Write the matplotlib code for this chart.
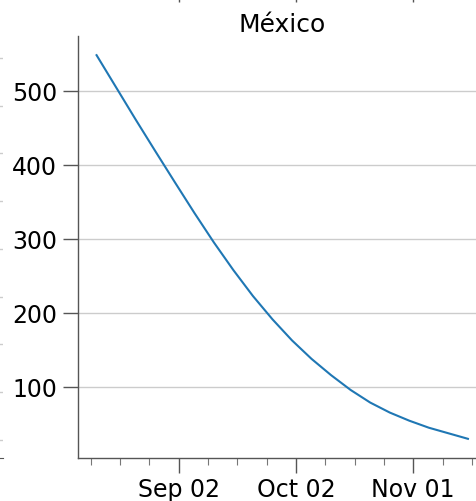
import matplotlib
matplotlib.use('Agg')
import matplotlib.pyplot as plt
import matplotlib.dates as mdates
from matplotlib.ticker import AutoMinorLocator, FixedLocator
import pandas as pd

TITLE = 'México'
START = '2020-08-12'
STEP = '5D'

# active cases, one reading every 5 days
ACTIVE = [548, 504.5, 461, 418.5, 376.5, 335, 295, 257.5, 222.5, 191,
          162.5, 137.5, 115.5, 95.5, 78.5, 65, 54, 44.5, 37, 29.5]

TICK_DATES = ['2020-09-02', '2020-10-02', '2020-11-01']
Y_TICKS = [100, 200, 300, 400, 500]

W, H = 477, 502
PX = 72 / 100  # points per pixel at dpi 100
SPINE = '#555555'
GRID = '#cccccc'


def style_axis(ax):
    for side in ['top', 'right']:
        ax.spines[side].set_visible(False)
    for side in ['left', 'bottom']:
        ax.spines[side].set_color(SPINE)
        ax.spines[side].set_linewidth(1.0)
    ax.tick_params(which='major', length=15 * PX, width=1.0, color=SPINE,
                   labelsize=17, pad=6 * PX)
    ax.tick_params(axis='x', which='major', pad=4 * PX)
    ax.tick_params(which='minor', length=7 * PX, width=0.8, color='#777777')


fig = plt.figure(figsize=(W / 100, H / 100), dpi=100)

# main panel (runs past the right edge of the canvas)
ax = fig.add_axes([78 / W, (H - 459) / H, 408.5 / W, (459 - 37) / H])
dates = pd.date_range(START, periods=len(ACTIVE), freq=STEP)
ax.plot(dates, ACTIVE, color='#1f77b4', linewidth=1.5)

ax.set_yticks(Y_TICKS)
ax.yaxis.grid(True, color=GRID, linewidth=1.0)
ax.set_axisbelow(True)

ticks = pd.to_datetime(TICK_DATES)
ax.xaxis.set_major_locator(FixedLocator(mdates.date2num(ticks)))
ax.xaxis.set_major_formatter(mdates.DateFormatter('%b %d'))
ax.xaxis.set_minor_locator(AutoMinorLocator(4))
ax.set_title(TITLE, fontsize=18, pad=5 * PX)
style_axis(ax)

# neighbour panel above: only its bottom ticks reach into view
ax_up = fig.add_axes([78 / W, (H + 12) / H, 408.5 / W, 0.5], sharex=ax)
ax_up.set_facecolor('none')
for side in ['top', 'right', 'left', 'bottom']:
    ax_up.spines[side].set_visible(False)
ax_up.tick_params(axis='x', which='major', length=15 * PX, width=1.0,
                  color=SPINE, labelbottom=False)
ax_up.tick_params(axis='x', which='minor', length=7 * PX, color='#777777')
ax_up.set_yticks([])

# neighbour panel to the left: its grid ends at the canvas edge
ax_left = fig.add_axes([(3 - 400) / W, (H - 459) / H, 400 / W, (459 - 37) / H])
ax_left.set_facecolor('none')
ax_left.set_ylim(-0.38, 8.46)
ax_left.set_yticks(range(9))
ax_left.yaxis.grid(True, color=GRID, linewidth=1.0)
ax_left.tick_params(labelleft=False, left=False, bottom=False,
                    labelbottom=False)
for side in ['top', 'right', 'left']:
    ax_left.spines[side].set_visible(False)
ax_left.spines['bottom'].set_color(SPINE)

fig.savefig('out.png', dpi=100)
